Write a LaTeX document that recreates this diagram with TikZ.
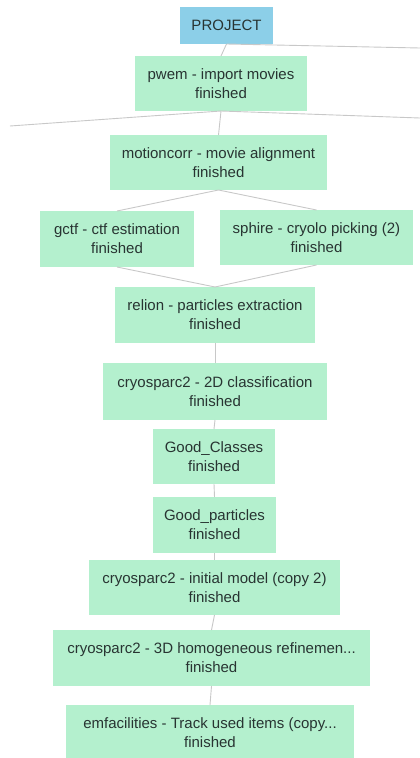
\documentclass[tikz,border=0pt]{standalone}
\usepackage{fontspec}
\setmainfont{Liberation Sans}
\definecolor{boxgreen}{RGB}{180,240,206}
\definecolor{boxblue}{RGB}{140,207,232}
\definecolor{linegray}{RGB}{200,200,200}
\definecolor{txt}{RGB}{40,52,50}
\begin{document}
\begin{tikzpicture}[x=1pt,y=-1pt,
  job/.style={rectangle, fill=boxgreen, text=txt, align=center, inner sep=0pt, outer sep=0pt,
    font=\fontsize{15}{19}\selectfont},
  proj/.style={rectangle, fill=boxblue, text=txt, align=center, inner sep=0pt, outer sep=0pt,
    font=\fontsize{15}{19}\selectfont},
  link/.style={draw=linegray, line width=0.9pt}]
\useasboundingbox (0,0) rectangle (420,758);
% coordinates of off-picture ends
\coordinate (offR1) at (420,48);
\coordinate (offL) at (10,126);
\coordinate (offR2) at (420,118);
% nodes
\node[proj, minimum width=93pt, minimum height=37pt] (project) at (226.5,25.5) {PROJECT};
\node[job, minimum width=172pt, minimum height=55pt] (pwem) at (221,83.5) {pwem - import movies\\finished};
\node[job, minimum width=217pt, minimum height=55pt] (motion) at (218.5,162.5) {motioncorr - movie alignment\\finished};
\node[job, minimum width=154pt, minimum height=56pt] (gctf) at (117,239) {gctf - ctf estimation\\finished};
\node[job, minimum width=193pt, minimum height=55pt] (sphire) at (316.5,237.5) {sphire - cryolo picking (2)\\finished};
\node[job, minimum width=200pt, minimum height=56pt] (relion) at (215,315) {relion - particles extraction\\finished};
\node[job, minimum width=224pt, minimum height=57pt] (cls) at (215,391.5) {cryosparc2 - 2D classification\\finished};
\node[job, minimum width=122pt, minimum height=55pt] (goodcl) at (214,456.5) {Good\_Classes\\finished};
\node[job, minimum width=123pt, minimum height=56pt] (goodpa) at (214.5,525) {Good\_particles\\finished};
\node[job, minimum width=251pt, minimum height=55pt] (init) at (214.5,587.5) {cryosparc2 - initial model (copy 2)\\finished};
\node[job, minimum width=317pt, minimum height=56pt] (homo) at (211.5,658) {cryosparc2 - 3D homogeneous refinemen...\\finished};
\node[job, minimum width=288pt, minimum height=55pt] (emf) at (210,732.5) {emfacilities - Track used items (copy...\\finished};
% connectors
\draw[link] (project.south) -- (offR1);
\draw[link] (project.south) -- (pwem.north);
\draw[link] (pwem.south) -- (offL);
\draw[link] (pwem.south) -- (offR2);
\draw[link] (pwem.south) -- (motion.north);
\draw[link] (motion.south) -- (gctf.north);
\draw[link] (motion.south) -- (sphire.north);
\draw[link] (gctf.south) -- (relion.north);
\draw[link] (sphire.south) -- (relion.north);
\draw[link] (relion.south) -- (cls.north);
\draw[link] (cls.south) -- (goodcl.north);
\draw[link] (goodcl.south) -- (goodpa.north);
\draw[link] (goodpa.south) -- (init.north);
\draw[link] (init.south) -- (homo.north);
\draw[link] (homo.south) -- (emf.north);
\end{tikzpicture}
\end{document}
